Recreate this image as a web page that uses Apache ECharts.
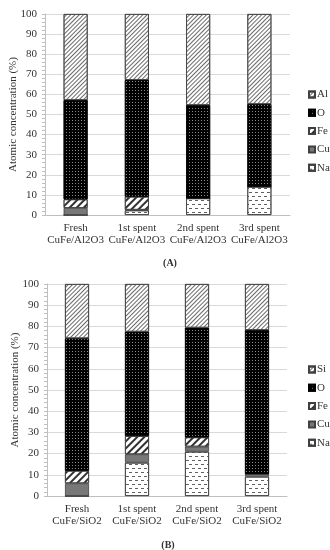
<!DOCTYPE html>
<html>
<head>
<meta charset="utf-8">
<script src="https://cdn.jsdelivr.net/npm/echarts@6/dist/echarts.min.js"></script>
<style>
html,body{margin:0;padding:0;background:#fff;}
#c{width:330px;height:550px;}
</style>
</head>
<body>
<div id="c"></div>
<script>
// Chart (A) data
const categoriesA = ['Fresh\nCuFe/Al2O3', '1st spent\nCuFe/Al2O3', '2nd spent\nCuFe/Al2O3', '3rd spent\nCuFe/Al2O3'];
const naA = [0, 2.3, 8.3, 14.1];
const cuA = [3.5, 0.3, 0, 0];
const feA = [4.3, 6.5, 0, 0];
const oA  = [49.4, 58.1, 46.4, 41.1];
const alA = [42.8, 32.8, 45.3, 44.8];

// Chart (B) data
const categoriesB = ['Fresh\nCuFe/SiO2', '1st spent\nCuFe/SiO2', '2nd spent\nCuFe/SiO2', '3rd spent\nCuFe/SiO2'];
const naB = [0, 15.7, 20.9, 9.1];
const cuB = [6.0, 4.0, 2.4, 1.3];
const feB = [5.9, 8.6, 4.4, 0];
const oB  = [62.5, 49.2, 51.7, 67.9];
const siB = [25.6, 22.5, 20.6, 21.7];

const yTicks = [0, 10, 20, 30, 40, 50, 60, 70, 80, 90, 100];
const yTitle = 'Atomic concentration (%)';

const FONT = '"Liberation Serif", "Times New Roman", serif';

const styles = {
  hatchDense: {
    color: '#ffffff', borderColor: '#404040', borderWidth: 0.8,
    decal: {symbol: 'rect', symbolSize: 1, symbolKeepAspect: false, dashArrayX: [1, 0], dashArrayY: [1, 1.6], rotation: -Math.PI / 4, color: '#6a6a6a'}
  },
  dots: {
    color: '#000000', borderColor: '#000', borderWidth: 0.8,
    decal: {symbol: 'rect', symbolSize: 1, dashArrayX: [1, 2], dashArrayY: [1, 2], rotation: 0, color: 'rgba(150,150,150,0.9)'}
  },
  hatchWide: {
    color: '#ffffff', borderColor: '#404040', borderWidth: 0.8,
    decal: {symbol: 'rect', symbolSize: 1, symbolKeepAspect: false, dashArrayX: [1, 0], dashArrayY: [1.2, 2.6], rotation: -Math.PI / 4, color: '#303030'}
  },
  gray: {color: '#787878', borderColor: '#404040', borderWidth: 0.8},
  dashes: {
    color: '#ffffff', borderColor: '#404040', borderWidth: 0.8,
    decal: {symbol: 'rect', symbolSize: 1, symbolKeepAspect: false, dashArrayX: [[3, 3], [0, 3, 3, 0]], dashArrayY: [1, 2.5], rotation: 0, color: '#606060'}
  }
};

function bar(name, data, style, idx) {
  return {
    name: name, type: 'bar', stack: idx === 0 ? 'a' : 'b',
    xAxisIndex: idx, yAxisIndex: idx, data: data,
    barWidth: 24, itemStyle: style, emphasis: {disabled: true}
  };
}

function yAxisCfg(idx, gap) {
  return {
    gridIndex: idx, type: 'value', min: yTicks[0], max: yTicks[yTicks.length - 1], interval: 10,
    name: yTitle, nameLocation: 'middle', nameGap: gap, nameMoveOverlap: false,
    nameTextStyle: {fontFamily: FONT, fontSize: 11, color: '#333'},
    axisLine: {show: true, lineStyle: {color: '#bfbfbf'}},
    axisTick: {show: true, length: 3, lineStyle: {color: '#bfbfbf'}},
    minorTick: {show: true, splitNumber: 5, length: 3, lineStyle: {color: '#bfbfbf'}},
    axisLabel: {fontFamily: FONT, fontSize: 11, color: '#333', margin: 8,
      formatter: v => yTicks.indexOf(v) >= 0 ? String(v) : ''},
    splitLine: {show: true, lineStyle: {color: '#d9d9d9'}}
  };
}

function xAxisCfg(idx, cats) {
  return {
    gridIndex: idx, type: 'category', data: cats,
    axisLine: {show: true, lineStyle: {color: '#bfbfbf'}},
    axisTick: {show: false},
    axisLabel: {fontFamily: FONT, fontSize: 11, color: '#333', margin: 7, lineHeight: 12, interval: 0, hideOverlap: false}
  };
}

const legendCommon = {
  orient: 'vertical', itemWidth: 6, itemHeight: 6, itemGap: 7.3,
  textStyle: {fontFamily: FONT, fontSize: 11, color: '#333', padding: [0, 0, 0, -3]},
  selectedMode: false, icon: 'rect'
};

const chart = echarts.init(document.getElementById('c'), null, {renderer: 'canvas'});
chart.setOption({
  animation: false,
  backgroundColor: '#fff',
  title: [
    {text: '(A)', left: 165, top: 253, textAlign: 'center',
     textStyle: {fontFamily: FONT, fontSize: 10, fontWeight: 'bold', color: '#333'}},
    {text: '(B)', left: 163, top: 535, textAlign: 'center',
     textStyle: {fontFamily: FONT, fontSize: 10, fontWeight: 'bold', color: '#333'}}
  ],
  grid: [
    {left: 45, right: 40, top: 14, height: 201, containLabel: false, outerBoundsMode: 'none'},
    {left: 47, right: 43, top: 284, height: 212, containLabel: false, outerBoundsMode: 'none'}
  ],
  legend: [
    Object.assign({}, legendCommon, {left: 303, top: 84, data: ['Al', 'O', 'Fe', 'Cu', 'Na']}),
    Object.assign({}, legendCommon, {left: 303, top: 359, data: ['Si', 'O', 'Fe', 'Cu', 'Na']})
  ],
  xAxis: [xAxisCfg(0, categoriesA), xAxisCfg(1, categoriesB)],
  yAxis: [yAxisCfg(0, 26), yAxisCfg(1, 26)],
  series: [
    bar('Na', naA, styles.dashes, 0),
    bar('Cu', cuA, styles.gray, 0),
    bar('Fe', feA, styles.hatchWide, 0),
    bar('O', oA, styles.dots, 0),
    bar('Al', alA, styles.hatchDense, 0),
    bar('Na', naB, styles.dashes, 1),
    bar('Cu', cuB, styles.gray, 1),
    bar('Fe', feB, styles.hatchWide, 1),
    bar('O', oB, styles.dots, 1),
    bar('Si', siB, styles.hatchDense, 1)
  ]
});
</script>
</body>
</html>
